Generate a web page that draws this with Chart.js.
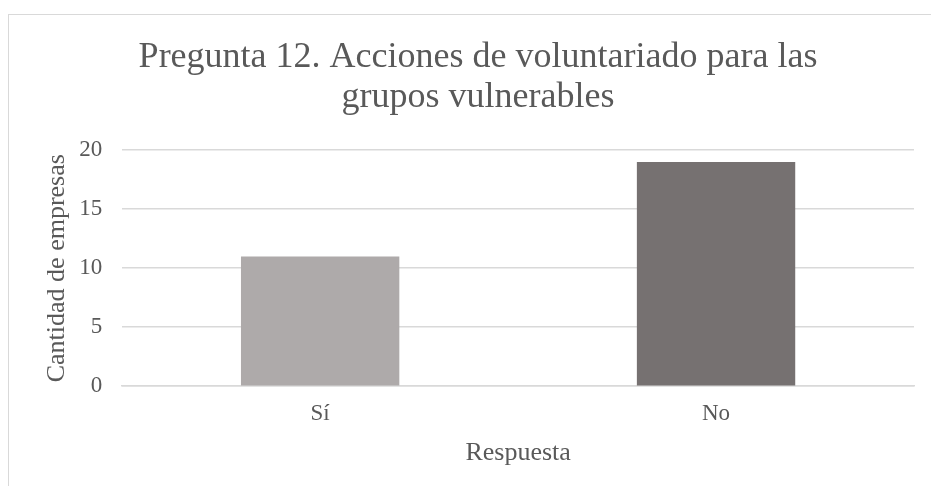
<!DOCTYPE html>
<html>
<head>
<meta charset="utf-8">
<script src="https://cdn.jsdelivr.net/npm/chart.js@4.4.0/dist/chart.umd.min.js"></script>
<style>
  html, body { margin: 0; padding: 0; background: #fff; overflow: hidden; }
  #wrap { position: relative; width: 931px; height: 486px; }
  #frame { position: absolute; left: 8px; top: 14px; width: 1000px; height: 600px; border: 1px solid #d9d9d9; }
  #myChart { position: absolute; left: 0; top: 0; }
</style>
</head>
<body>
<div id="wrap">
  <div id="frame"></div>
  <canvas id="myChart" width="931" height="486"></canvas>
</div>
<script>
const categories = ["Sí", "No"];
const values = [11, 19];
const barColors = ["#aeaaaa", "#767171"];
const titleLines = ["Pregunta 12. Acciones de voluntariado para las", "grupos vulnerables"];
const yTitle = "Cantidad de empresas";
const xTitle = "Respuesta";

const ctx = document.querySelector("#myChart").getContext("2d");
const serif = "'Liberation Serif', 'Times New Roman', serif";
const textGray = "#595959";

const chart = new Chart(ctx, {
    type: "bar",
    data: {
        labels: categories,
        datasets: [{
            data: values,
            backgroundColor: barColors,
            categoryPercentage: 1,
            barPercentage: 0.4
        }]
    },
    options: {
        responsive: false,
        animation: false,
        layout: { padding: { left: 42, right: 17, top: 38, bottom: 17 } },
        plugins: {
            legend: { display: false },
            tooltip: { enabled: false },
            title: {
                display: true,
                text: titleLines,
                color: textGray,
                font: { family: serif, size: 36, weight: "normal", lineHeight: 1.1 },
                padding: { top: 0, bottom: 33 }
            }
        },
        scales: {
            x: {
                grid: { display: false, drawTicks: false },
                border: { color: "#d9d9d9", width: 1.5 },
                ticks: { color: textGray, font: { family: serif, size: 23 }, padding: 14 },
                title: { display: true, text: xTitle, color: textGray, font: { family: serif, size: 26 }, padding: { top: -4, bottom: 0 } }
            },
            y: {
                min: 0,
                max: 20,
                ticks: { stepSize: 5, color: textGray, font: { family: serif, size: 23 }, padding: 20 },
                grid: { color: "#d9d9d9", lineWidth: 1.5, drawTicks: false },
                border: { display: false },
                title: { display: true, text: yTitle, color: textGray, font: { family: serif, size: 26 }, padding: { top: 0, bottom: -14 } }
            }
        }
    }
});
</script>
</body>
</html>
